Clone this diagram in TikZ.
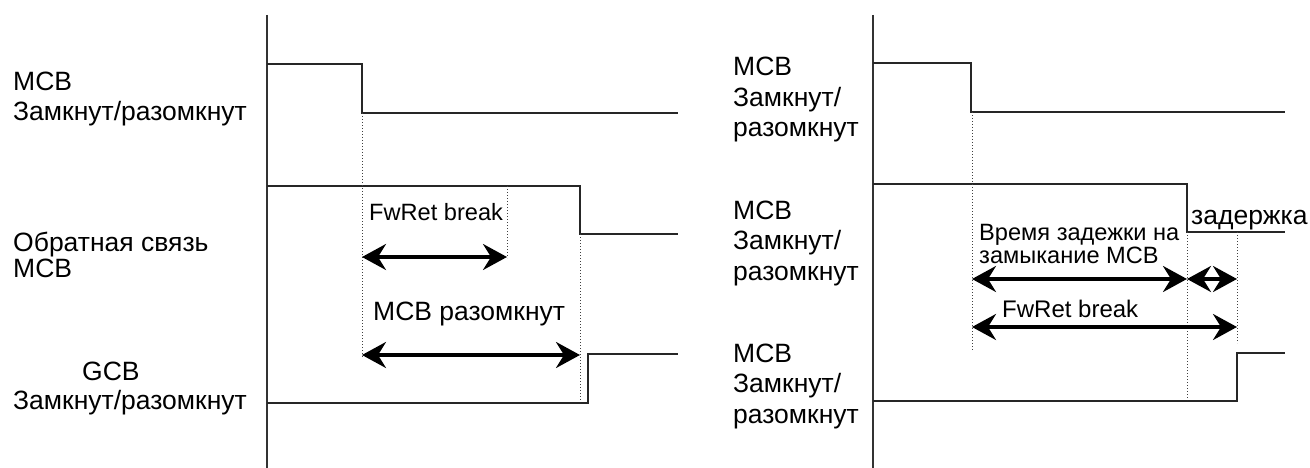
\documentclass[tikz,border=0pt]{standalone}
\usepackage{fontspec}
\setmainfont{Liberation Sans}
\usetikzlibrary{arrows.meta}
\begin{document}
\begin{tikzpicture}[x=1pt,y=-1pt,
  sig/.style={line width=2pt, draw=black!85},
  axisline/.style={line width=2pt, draw=black!80},
  guide/.style={line width=1pt, draw=black!75, dash pattern=on 1pt off 2pt},
  tip/.tip={Stealth[length=24pt,width=26pt,inset=8pt]},
  dim/.style={line width=3.4pt, draw=black, tip-tip},
  lbl/.style={anchor=base west, inner sep=0pt, align=left,
    font=\fontsize{26.5}{30.5}\selectfont},
  ann/.style={anchor=base west, inner sep=0pt, align=left,
    font=\fontsize{23.6}{18.5}\selectfont},
]
\useasboundingbox (0,0) rectangle (1310,468);

% ---------- left panel ----------
\coordinate (La0) at (267,15);
\coordinate (La1) at (267,468);
\draw[axisline] (La0) -- (La1);

\draw[sig] (267,64) -- (362,64) -- (362,113) -- (678,113);
\draw[sig] (267,186) -- (580,186) -- (580,234) -- (678,234);
\draw[sig] (267,403) -- (588,403) -- (588,354) -- (678,354);

\coordinate (Lg1t) at (362,113); \coordinate (Lg1b) at (362,357);
\coordinate (Lg2t) at (507,186); \coordinate (Lg2b) at (507,258);
\coordinate (Lg3t) at (580,234); \coordinate (Lg3b) at (580,402);
\draw[guide] (Lg1t) -- (Lg1b);
\draw[guide] (Lg2t) -- (Lg2b);
\draw[guide] (Lg3t) -- (Lg3b);

\coordinate (LA1s) at (362,257); \coordinate (LA1e) at (507,257);
\coordinate (LA2s) at (362,355); \coordinate (LA2e) at (580,355);
\draw[dim] (LA1s) -- (LA1e);
\draw[dim] (LA2s) -- (LA2e);

\node[ann] (lfw) at (369,220) {FwRet break};
\node[lbl] (lmr) at (373,320) {MCB разомкнут};

\node[lbl] (l1) at (13,121) {MCB\\Замкнут/разомкнут};
\node[lbl, font=\fontsize{26.5}{26}\selectfont] (l2) at (13,277) {Обратная связь\\MCB};
\node[lbl] (l3a) at (82,380) {GCB};
\node[lbl] (l3b) at (13,409) {Замкнут/разомкнут};

% ---------- right panel ----------
\coordinate (Ra0) at (873,15);
\coordinate (Ra1) at (873,468);
\draw[axisline] (Ra0) -- (Ra1);

\draw[sig] (873,63) -- (971,63) -- (971,112) -- (1285,112);
\draw[sig] (873,184) -- (1187,184) -- (1187,232) -- (1285,232);
\draw[sig] (873,401) -- (1237,401) -- (1237,353) -- (1285,353);

\coordinate (Rg1t) at (972,112); \coordinate (Rg1b) at (972,350);
\coordinate (Rg2t) at (1187,232); \coordinate (Rg2b) at (1187,400);
\coordinate (Rg3t) at (1237,232); \coordinate (Rg3b) at (1237,343);
\draw[guide] (Rg1t) -- (Rg1b);
\draw[guide] (Rg2t) -- (Rg2b);
\draw[guide] (Rg3t) -- (Rg3b);

\coordinate (RA1s) at (972,279); \coordinate (RA1e) at (1187,279);
\coordinate (RA2e) at (1237,279);
\coordinate (RA3s) at (972,327); \coordinate (RA3e) at (1237,327);
\draw[dim] (RA1s) -- (RA1e);
\draw[dim] (RA1e) -- (RA2e);
\draw[dim] (RA3s) -- (RA3e);

\node[ann] (rdl) at (979,263) {Время задежки на\\замыкание MCB};
\node[ann, font=\fontsize{26.5}{20}\selectfont] (rzd) at (1191,224) {задержка};
\node[ann, font=\fontsize{24}{20}\selectfont] (rfw) at (1002,317) {FwRet break};

\node[lbl] (r1) at (733,137) {MCB\\Замкнут/\\разомкнут};
\node[lbl] (r2) at (733,280) {MCB\\Замкнут/\\разомкнут};
\node[lbl] (r3) at (733,423) {MCB\\Замкнут/\\разомкнут};
\end{tikzpicture}
\end{document}
